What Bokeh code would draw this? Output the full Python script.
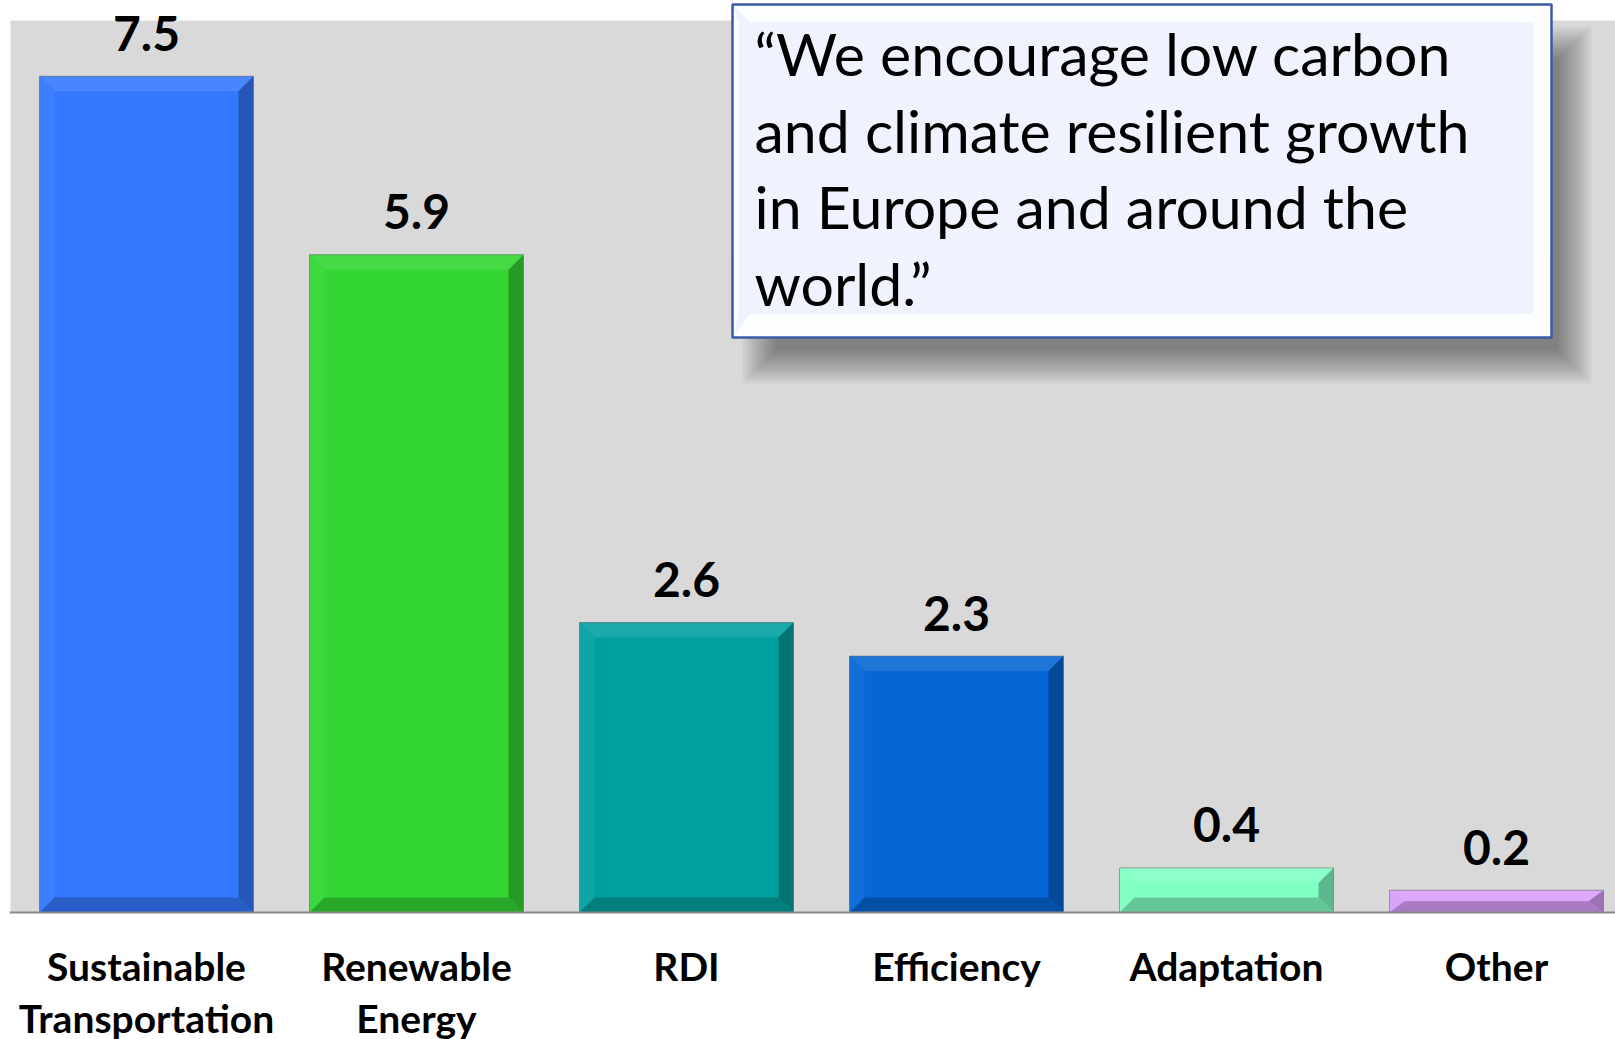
from bokeh.plotting import figure
from bokeh.models import Range1d
from bokeh.core.properties import value
from bokeh.embed import file_html
from bokeh.resources import INLINE

# ---- data -------------------------------------------------------------
categories = ["Sustainable\nTransportation", "Renewable\nEnergy", "RDI",
              "Efficiency", "Adaptation", "Other"]
amounts = [7.5, 5.9, 2.6, 2.3, 0.4, 0.2]
value_labels = ["7.5", "5.9", "2.6", "2.3", "0.4", "0.2"]
bar_colors = ["#3378FF", "#33D633", "#00A0A0", "#0567D5", "#80FFC2", "#D79EFB"]
quote_lines = ["\u201cWe encourage low carbon",
               "and climate resilient growth",
               "in Europe and around the",
               "world.\u201d"]
y_max = 8

# ---- canvas geometry (pixels) ----------------------------------------
W, H = 1615, 1039
PX_X = 270.0      # pixels per category
PX_Y = 111.5      # pixels per unit of value
X0 = 146.0        # pixel x of first category centre
BASE = 912.0      # pixel y of the zero line


def dx(px):
    return (px - X0) / PX_X


def dy(py):
    return (BASE - py) / PX_Y


def blend(hex_color, other, t):
    c = [int(hex_color[i:i + 2], 16) for i in (1, 3, 5)]
    o = [int(other[i:i + 2], 16) for i in (1, 3, 5)]
    m = [round(a + (b - a) * t) for a, b in zip(c, o)]
    return "#%02x%02x%02x" % tuple(m)


p = figure(width=W, height=H, output_backend="svg", toolbar_location=None,
           x_range=Range1d(dx(0), dx(W)), y_range=Range1d(dy(H), dy(0)),
           min_border=0, min_border_left=0, min_border_right=0,
           min_border_top=0, min_border_bottom=0)
p.axis.visible = False
p.grid.visible = False
p.outline_line_color = None
p.background_fill_color = "white"
p.border_fill_color = "white"

# plot-area background
p.quad(left=dx(10), right=dx(W + 5), bottom=0, top=y_max,
       fill_color="#D9D9D9", line_color=None)

# ---- bars with bevelled edges ----------------------------------------
xs = list(range(len(categories)))
bar_w = 214 / PX_X
p.vbar(x=xs, width=bar_w, top=amounts, bottom=0, fill_color=bar_colors,
       line_color=None)

bev_xs, bev_ys, bev_cols = [], [], []
bx = 15 / PX_X
for i, (v, col) in enumerate(zip(amounts, bar_colors)):
    l, r, t = i - bar_w / 2, i + bar_w / 2, v
    by = min(15 / PX_Y, v / 2)
    sides = [
        ([l, r, r - bx, l + bx], [t, t, t - by, t - by], blend(col, "#ffffff", 0.10)),
        ([l, l + bx, l + bx, l], [t, t - by, by, 0], blend(col, "#ffffff", 0.05)),
        ([r, r - bx, r - bx, r], [t, t - by, by, 0], blend(col, "#000000", 0.28)),
        ([l, r, r - bx, l + bx], [0, 0, by, by], blend(col, "#000000", 0.22)),
    ]
    for sx, sy, c in sides:
        bev_xs.append(sx)
        bev_ys.append(sy)
        bev_cols.append(c)
p.patches(xs=bev_xs, ys=bev_ys, fill_color=bev_cols, line_color=None)
p.vbar(x=xs, width=bar_w, top=amounts, bottom=0, fill_color=None,
       line_color="#6f6f6f", line_alpha=0.6, line_width=1)

# zero line
p.segment(x0=dx(9), y0=0, x1=dx(W), y1=0, line_color="#8a8a8a", line_width=2)

# value labels
p.text(x=xs, y=amounts, text=value_labels, text_font=value("Lato"),
       text_font_style="bold", text_font_size="48px", text_color="black",
       text_align="center", text_baseline="alphabetic", y_offset=-43)

# category labels
p.text(x=xs, y=[0] * len(xs), text=categories, text_font=value("Lato"),
       text_font_style="bold", text_font_size="39px", text_color="black",
       text_align="center", text_baseline="top", text_line_height=1.14,
       y_offset=30)

# ---- quote callout -----------------------------------------------------
bl, br, bt, bb = 732, 1551, 4, 337
# soft drop shadow
for k in range(12):
    g = 18 - k * 3
    p.quad(left=dx(bl + 28 - g), right=dx(br + 22 + g),
           top=dy(bt + 40 - g), bottom=dy(bb + 28 + g),
           fill_color="black", fill_alpha=0.04, line_color=None)

p.quad(left=dx(bl), right=dx(br), top=dy(bt), bottom=dy(bb),
       fill_color="#EEF3FE", line_color=None)
e = 18
box_bevels = [
    ([bl, br, br - e, bl + e], [bt, bt, bt + e, bt + e]),
    ([bl, br, br - e, bl + e], [bb, bb, bb - e - 6, bb - e - 6]),
    ([br, br - e, br - e, br], [bt, bt + e, bb - e - 6, bb]),
    ([bl, bl + 6, bl + 6, bl], [bt, bt + e, bb - e - 6, bb]),
]
p.patches(xs=[[dx(v) for v in sx] for sx, _ in box_bevels],
          ys=[[dy(v) for v in sy] for _, sy in box_bevels],
          fill_color="white", fill_alpha=0.85, line_color=None)
p.quad(left=dx(bl), right=dx(br), top=dy(bt), bottom=dy(bb),
       fill_color=None, line_color="#3A5BA6", line_width=2.5)

p.text(x=[dx(754)] * len(quote_lines),
       y=[dy(v) for v in (53, 130, 206, 283)],
       text=quote_lines, text_font=value("Lato"), text_font_size="59px",
       text_color="black", text_align="left", text_baseline="alphabetic")

open("out.html", "w").write(file_html(p, INLINE))
